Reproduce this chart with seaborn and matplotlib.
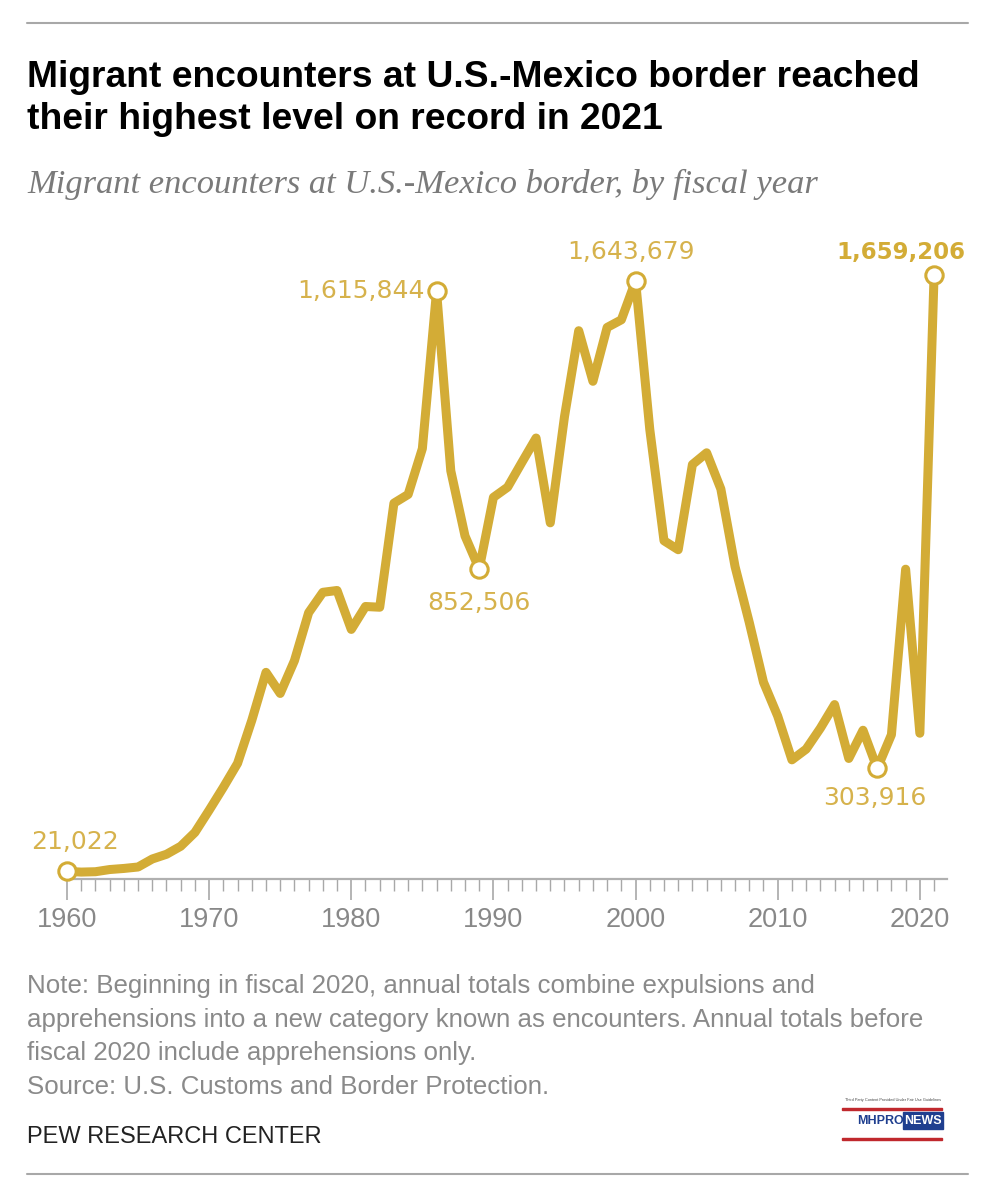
import matplotlib
matplotlib.use("Agg")
import matplotlib.pyplot as plt
import matplotlib.patches as mpatches
import numpy as np
import pandas as pd
import seaborn as sns

# fiscal years and encounters
years = list(range(1960, 2022))
encounters = [
    21022, 19000, 20000, 26000, 29000, 33000, 55000, 68000, 90000, 128000,   # 1960s
    189000, 252000, 318000, 436000, 568000, 510000, 600000, 732000, 788000, 793000,   # 1970s
    686000, 749000, 747000, 1033000, 1057000, 1183000, 1615844, 1122000, 943000, 852506,   # 1980s
    1049000, 1077000, 1145000, 1212000, 979000, 1271000, 1507000, 1368000, 1516000, 1537000,   # 1990s
    1643679, 1235718, 929809, 905065, 1139282, 1171396, 1071972, 858638, 705005, 540865,   # 2000s
    447731, 327577, 356873, 414397, 479371, 331333, 408870, 303916, 396579, 851508,   # 2010s
    400651, 1659206,
]

# labelled points
label_years = [1960, 1986, 1989, 2000, 2017, 2021]
label_text = ["21,022", "1,615,844", "852,506", "1,643,679", "303,916", "1,659,206"]

df = pd.DataFrame({"year": years, "encounters": encounters})

GOLD = "#D3AC36"
GOLD_TXT = "#D6B24C"
GRAY = "#888888"

sns.set_style("white")
plt.rcParams["font.family"] = ["Liberation Sans", "DejaVu Sans"]

fig = plt.figure(figsize=(9.94, 11.85), dpi=100)
W, H = 994, 1185

def fx(px):
    return px / W

def fy(py):
    return 1 - py / H

ax = fig.add_axes([fx(67), fy(879), 880 / W, 618.5 / H])

sns.lineplot(data=df, x="year", y="encounters", color=GOLD, linewidth=6.5, ax=ax,
             solid_joinstyle="round", solid_capstyle="round", zorder=3)

lab = df[df["year"].isin(label_years)]
ax.plot(lab["year"], lab["encounters"], linestyle="none", marker="o", markersize=12.5,
        markerfacecolor="white", markeredgecolor=GOLD, markeredgewidth=2.2,
        clip_on=False, zorder=4)

# offset in points and alignment for each label
offsets = {1960: (6, 21, "center"), 1986: (-8.5, 0, "right"), 1989: (0, -24.5, "center"),
           2000: (-3, 21, "center"), 2017: (-1.5, -21.5, "center"), 2021: (-24, 16.5, "center")}
for yr, txt in zip(label_years, label_text):
    val = encounters[years.index(yr)]
    dx, dy, ha = offsets[yr]
    ax.annotate(txt, (yr, val), xytext=(dx, dy), textcoords="offset points",
                ha=ha, va="center", color=GOLD_TXT if yr != 2021 else GOLD,
                fontsize=18 if yr != 2021 else 16.5,
                fontweight="bold" if yr == 2021 else "normal",
                family="DejaVu Sans", annotation_clip=False)

ax.set_xlim(1960, 2021.91)
ax.set_ylim(0, 1700000)
ax.set_xticks(range(1960, 2021, 10))
ax.set_xticks(range(1960, 2022), minor=True)
ax.set_yticks([])
ax.set_xlabel("")
ax.set_ylabel("")
for s in ["left", "right", "top"]:
    ax.spines[s].set_visible(False)
ax.spines["bottom"].set_color("#b0b0b0")
ax.spines["bottom"].set_linewidth(1.6)
ax.tick_params(axis="x", which="both", bottom=True, direction="out", color="#a8a8a8")
ax.tick_params(axis="x", which="major", length=15, width=1.2,
               labelsize=19.5, labelcolor=GRAY, pad=5)
ax.tick_params(axis="x", which="minor", length=8.5, width=1.0)
ax.set_facecolor("white")

# title block
fig.add_artist(plt.Line2D([fx(27), fx(968)], [fy(23), fy(23)], color="#a8a8a8", lw=1.5))
fig.text(fx(27), fy(87), "Migrant encounters at U.S.-Mexico border reached",
         fontsize=26.8, fontweight="bold", color="black", va="baseline")
fig.text(fx(27), fy(129), "their highest level on record in 2021",
         fontsize=26.8, fontweight="bold", color="black", va="baseline")
fig.text(fx(27), fy(193), "Migrant encounters at U.S.-Mexico border, by fiscal year",
         fontsize=24.8, style="italic", color="#7a7a7a", va="baseline",
         family=["Liberation Serif", "DejaVu Serif"])

# notes
notes = ["Note: Beginning in fiscal 2020, annual totals combine expulsions and",
         "apprehensions into a new category known as encounters. Annual totals before",
         "fiscal 2020 include apprehensions only.",
         "Source: U.S. Customs and Border Protection."]
for i, line in enumerate(notes):
    fig.text(fx(27), fy(993 + 33.5 * i), line, fontsize=18.6, color="#8a8a8a", va="baseline")
fig.text(fx(27), fy(1143), "PEW RESEARCH CENTER", fontsize=17, color="#222222", va="baseline")
fig.add_artist(plt.Line2D([fx(27), fx(968)], [fy(1174), fy(1174)], color="#a8a8a8", lw=1.5))

# small watermark logo
fig.text(fx(893), fy(1100), "Third Party Content Provided Under Fair Use Guidelines",
         fontsize=2.8, color="#444444", ha="center", va="center")
fig.add_artist(mpatches.Rectangle((fx(842), fy(1110)), 100 / W, 2 / H, color="#c0282d"))
fig.text(fx(880), fy(1121), "MHPRO", fontsize=9, fontweight="bold", color="#1f3f8f",
         ha="center", va="center")
fig.add_artist(mpatches.Rectangle((fx(903), fy(1129)), 40 / W, 17 / H, color="#1f3f8f"))
fig.text(fx(923), fy(1121), "NEWS", fontsize=9, fontweight="bold", color="white",
         ha="center", va="center")
fig.add_artist(mpatches.Rectangle((fx(842), fy(1140)), 100 / W, 2 / H, color="#c0282d"))

fig.savefig("out.png", dpi=100, facecolor="white")
